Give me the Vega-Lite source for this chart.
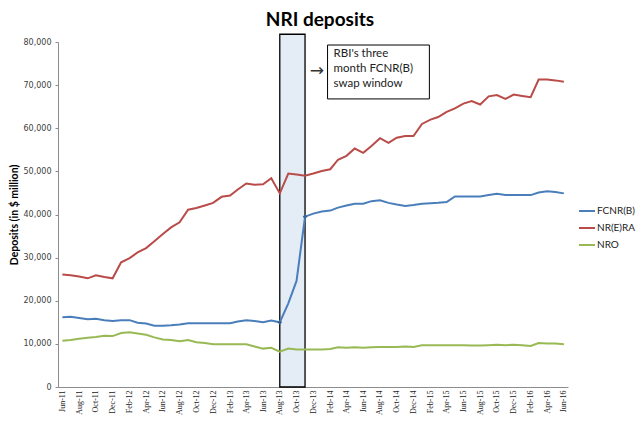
{
  "$schema": "https://vega.github.io/schema/vega-lite/v6.json",
  "width": 510,
  "height": 345,
  "autosize": {"type": "none"},
  "padding": {"left": 58, "top": 42, "right": 72, "bottom": 39},
  "background": "#FFFFFF",
  "title": {
    "text": "NRI deposits",
    "font": "Lato",
    "fontSize": 19,
    "fontWeight": "bold",
    "color": "black",
    "anchor": "middle",
    "frame": "group",
    "offset": 4,
    "dx": 7
  },
  "config": {
    "view": {"stroke": null},
    "font": "Lato"
  },
  "datasets": {
    "deposits": [
      {"date": "2011/06/01", "FCNR(B)": 16200, "NR(E)RA": 26100, "NRO": 10700},
      {"date": "2011/07/01", "FCNR(B)": 16300, "NR(E)RA": 25900, "NRO": 10900},
      {"date": "2011/08/01", "FCNR(B)": 16000, "NR(E)RA": 25600, "NRO": 11200},
      {"date": "2011/09/01", "FCNR(B)": 15700, "NR(E)RA": 25200, "NRO": 11400},
      {"date": "2011/10/01", "FCNR(B)": 15800, "NR(E)RA": 25900, "NRO": 11600},
      {"date": "2011/11/01", "FCNR(B)": 15500, "NR(E)RA": 25500, "NRO": 11900},
      {"date": "2011/12/01", "FCNR(B)": 15300, "NR(E)RA": 25200, "NRO": 11800},
      {"date": "2012/01/01", "FCNR(B)": 15500, "NR(E)RA": 28900, "NRO": 12500},
      {"date": "2012/02/01", "FCNR(B)": 15500, "NR(E)RA": 29900, "NRO": 12700},
      {"date": "2012/03/01", "FCNR(B)": 14900, "NR(E)RA": 31200, "NRO": 12400},
      {"date": "2012/04/01", "FCNR(B)": 14700, "NR(E)RA": 32200, "NRO": 12100},
      {"date": "2012/05/01", "FCNR(B)": 14200, "NR(E)RA": 33800, "NRO": 11500},
      {"date": "2012/06/01", "FCNR(B)": 14200, "NR(E)RA": 35500, "NRO": 11000},
      {"date": "2012/07/01", "FCNR(B)": 14300, "NR(E)RA": 37000, "NRO": 10900},
      {"date": "2012/08/01", "FCNR(B)": 14500, "NR(E)RA": 38200, "NRO": 10600},
      {"date": "2012/09/01", "FCNR(B)": 14800, "NR(E)RA": 41100, "NRO": 10900},
      {"date": "2012/10/01", "FCNR(B)": 14800, "NR(E)RA": 41500, "NRO": 10400},
      {"date": "2012/11/01", "FCNR(B)": 14800, "NR(E)RA": 42100, "NRO": 10200},
      {"date": "2012/12/01", "FCNR(B)": 14800, "NR(E)RA": 42700, "NRO": 9900},
      {"date": "2013/01/01", "FCNR(B)": 14800, "NR(E)RA": 44100, "NRO": 9900},
      {"date": "2013/02/01", "FCNR(B)": 14800, "NR(E)RA": 44400, "NRO": 9900},
      {"date": "2013/03/01", "FCNR(B)": 15200, "NR(E)RA": 45800, "NRO": 9900},
      {"date": "2013/04/01", "FCNR(B)": 15500, "NR(E)RA": 47200, "NRO": 9900},
      {"date": "2013/05/01", "FCNR(B)": 15300, "NR(E)RA": 46900, "NRO": 9400},
      {"date": "2013/06/01", "FCNR(B)": 15000, "NR(E)RA": 47000, "NRO": 8900},
      {"date": "2013/07/01", "FCNR(B)": 15400, "NR(E)RA": 48400, "NRO": 9100},
      {"date": "2013/08/01", "FCNR(B)": 15000, "NR(E)RA": 44900, "NRO": 8200},
      {"date": "2013/09/01", "FCNR(B)": 19400, "NR(E)RA": 49500, "NRO": 8900},
      {"date": "2013/10/01", "FCNR(B)": 24600, "NR(E)RA": 49300, "NRO": 8700},
      {"date": "2013/11/01", "FCNR(B)": 39500, "NR(E)RA": 49000, "NRO": 8700},
      {"date": "2013/12/01", "FCNR(B)": 40200, "NR(E)RA": 49500, "NRO": 8700},
      {"date": "2014/01/01", "FCNR(B)": 40700, "NR(E)RA": 50100, "NRO": 8700},
      {"date": "2014/02/01", "FCNR(B)": 40900, "NR(E)RA": 50500, "NRO": 8800},
      {"date": "2014/03/01", "FCNR(B)": 41600, "NR(E)RA": 52700, "NRO": 9200},
      {"date": "2014/04/01", "FCNR(B)": 42100, "NR(E)RA": 53600, "NRO": 9100},
      {"date": "2014/05/01", "FCNR(B)": 42500, "NR(E)RA": 55300, "NRO": 9200},
      {"date": "2014/06/01", "FCNR(B)": 42500, "NR(E)RA": 54300, "NRO": 9100},
      {"date": "2014/07/01", "FCNR(B)": 43100, "NR(E)RA": 55900, "NRO": 9200},
      {"date": "2014/08/01", "FCNR(B)": 43300, "NR(E)RA": 57700, "NRO": 9300},
      {"date": "2014/09/01", "FCNR(B)": 42700, "NR(E)RA": 56600, "NRO": 9300},
      {"date": "2014/10/01", "FCNR(B)": 42300, "NR(E)RA": 57800, "NRO": 9300},
      {"date": "2014/11/01", "FCNR(B)": 42000, "NR(E)RA": 58200, "NRO": 9400},
      {"date": "2014/12/01", "FCNR(B)": 42200, "NR(E)RA": 58200, "NRO": 9300},
      {"date": "2015/01/01", "FCNR(B)": 42500, "NR(E)RA": 61000, "NRO": 9700},
      {"date": "2015/02/01", "FCNR(B)": 42600, "NR(E)RA": 62000, "NRO": 9700},
      {"date": "2015/03/01", "FCNR(B)": 42700, "NR(E)RA": 62600, "NRO": 9700},
      {"date": "2015/04/01", "FCNR(B)": 42900, "NR(E)RA": 63800, "NRO": 9700},
      {"date": "2015/05/01", "FCNR(B)": 44200, "NR(E)RA": 64600, "NRO": 9700},
      {"date": "2015/06/01", "FCNR(B)": 44200, "NR(E)RA": 65700, "NRO": 9700},
      {"date": "2015/07/01", "FCNR(B)": 44200, "NR(E)RA": 66300, "NRO": 9600},
      {"date": "2015/08/01", "FCNR(B)": 44200, "NR(E)RA": 65500, "NRO": 9600},
      {"date": "2015/09/01", "FCNR(B)": 44500, "NR(E)RA": 67400, "NRO": 9700},
      {"date": "2015/10/01", "FCNR(B)": 44800, "NR(E)RA": 67700, "NRO": 9800},
      {"date": "2015/11/01", "FCNR(B)": 44500, "NR(E)RA": 66800, "NRO": 9700},
      {"date": "2015/12/01", "FCNR(B)": 44500, "NR(E)RA": 67800, "NRO": 9800},
      {"date": "2016/01/01", "FCNR(B)": 44500, "NR(E)RA": 67500, "NRO": 9700},
      {"date": "2016/02/01", "FCNR(B)": 44500, "NR(E)RA": 67200, "NRO": 9500},
      {"date": "2016/03/01", "FCNR(B)": 45100, "NR(E)RA": 71300, "NRO": 10200},
      {"date": "2016/04/01", "FCNR(B)": 45400, "NR(E)RA": 71300, "NRO": 10100},
      {"date": "2016/05/01", "FCNR(B)": 45200, "NR(E)RA": 71100, "NRO": 10100},
      {"date": "2016/06/01", "FCNR(B)": 44900, "NR(E)RA": 70800, "NRO": 9900}
    ],
    "swapPoints": [
      {"date": "2013/08/01", "value": 15000},
      {"date": "2013/11/01", "value": 39500}
    ]
  },
  "layer": [
    {
      "data": {"values": [{}]},
      "mark": {"type": "rect", "fill": "#e4ecf6", "stroke": "black", "strokeWidth": 1.3},
      "encoding": {
        "x": {"datum": {"year": 2013, "month": 8, "date": 1}, "type": "temporal",
              "scale": {"domain": [{"year": 2011, "month": 5, "date": 16}, {"year": 2016, "month": 6, "date": 16}]}},
        "x2": {"datum": {"year": 2013, "month": 11, "date": 1}},
        "y": {
          "datum": 0,
          "type": "quantitative",
          "scale": {"domain": [0, 80000], "nice": false},
          "axis": {
            "title": "Deposits (in $ million)",
            "titleFont": "Lato",
            "titleFontSize": 10.5,
            "titleFontWeight": "bold",
            "titleColor": "black",
            "titlePadding": 4,
            "values": [0, 10000, 20000, 30000, 40000, 50000, 60000, 70000, 80000],
            "labelExpr": "format(datum.value, ',')",
            "labelFont": "DejaVu Sans",
            "labelFontSize": 8,
            "labelColor": "#404040",
            "labelPadding": 4,
            "tickSize": 3,
            "tickColor": "#8c8c8c",
            "domainColor": "#8c8c8c",
            "gridColor": "#8c8c8c"
          }
        },
        "y2": {"datum": 81800}
      }
    },
    {
      "data": {"name": "deposits"},
      "transform": [{"fold": ["FCNR(B)", "NR(E)RA", "NRO"], "as": ["series", "value"]}],
      "mark": {"type": "line", "strokeWidth": 2},
      "encoding": {
        "x": {
          "field": "date",
          "type": "temporal",
          "scale": {"domain": [{"year": 2011, "month": 5, "date": 16}, {"year": 2016, "month": 6, "date": 16}]},
          "axis": {
            "title": null,
            "grid": false,
            "ticks": false,
            "tickCount": {"interval": "month", "step": 1},
            "labelExpr": "month(datum.value) % 2 == 1 ? timeFormat(datum.value, '%b-%y') : ''",
            "labelOverlap": false,
            "labelAngle": -90,
            "labelPadding": 3,
            "labelFont": "Liberation Serif",
            "labelFontSize": 8,
            "labelColor": "#222222",
            "domainColor": "#8c8c8c"
          }
        },
        "y": {
          "field": "value",
          "type": "quantitative",
          "scale": {"domain": [0, 80000], "nice": false},
          "axis": {
            "title": "Deposits (in $ million)",
            "titleFont": "Lato",
            "titleFontSize": 10.5,
            "titleFontWeight": "bold",
            "titleColor": "black",
            "titlePadding": 4,
            "values": [0, 10000, 20000, 30000, 40000, 50000, 60000, 70000, 80000],
            "labelExpr": "format(datum.value, ',')",
            "labelFont": "DejaVu Sans",
            "labelFontSize": 8,
            "labelColor": "#404040",
            "labelPadding": 4,
            "tickSize": 3,
            "tickColor": "#8c8c8c",
            "domainColor": "#8c8c8c",
            "gridColor": "#8c8c8c"
          }
        },
        "color": {
          "field": "series",
          "type": "nominal",
          "scale": {"domain": ["FCNR(B)", "NR(E)RA", "NRO"], "range": ["#4a7ebb", "#b94c49", "#98b954"]},
          "legend": {
            "title": null,
            "orient": "none",
            "legendX": 520,
            "legendY": 160,
            "padding": 0,
            "symbolType": "stroke",
            "symbolSize": 256,
            "symbolStrokeWidth": 2,
            "labelFont": "Lato",
            "labelFontSize": 10,
            "labelColor": "#222222",
            "labelOffset": 1,
            "labelLimit": 60,
            "rowPadding": 3
          }
        }
      }
    },
    {
      "data": {"name": "swapPoints"},
      "mark": {"type": "point", "shape": "diamond", "filled": true, "size": 22, "color": "#3a6496", "opacity": 1},
      "encoding": {
        "x": {"field": "date", "type": "temporal",
              "scale": {"domain": [{"year": 2011, "month": 5, "date": 16}, {"year": 2016, "month": 6, "date": 16}]}},
        "y": {"field": "value", "type": "quantitative", "scale": {"domain": [0, 80000], "nice": false}}
      }
    },
    {
      "data": {"values": [{}]},
      "mark": {"type": "rect", "fill": "white", "stroke": "black", "strokeWidth": 1},
      "encoding": {
        "x": {"datum": {"year": 2014, "month": 1, "date": 22}, "type": "temporal"},
        "x2": {"datum": {"year": 2015, "month": 1, "date": 28}},
        "y": {"datum": 79300, "type": "quantitative"},
        "y2": {"datum": 66800}
      }
    },
    {
      "data": {"values": [{}]},
      "mark": {"type": "text", "align": "left", "baseline": "top", "font": "Lato", "fontSize": 11.5, "lineHeight": 15, "color": "#222222",
               "text": ["RBI's three", "month FCNR(B)", "swap window"]},
      "encoding": {
        "x": {"datum": {"year": 2014, "month": 2, "date": 13}, "type": "temporal"},
        "y": {"datum": 78600, "type": "quantitative"}
      }
    },
    {
      "data": {"values": [{}]},
      "mark": {"type": "text", "align": "center", "baseline": "middle", "font": "DejaVu Sans", "fontSize": 17, "color": "#333333", "text": "→"},
      "encoding": {
        "x": {"datum": {"year": 2013, "month": 12, "date": 14}, "type": "temporal"},
        "y": {"datum": 73300, "type": "quantitative"}
      }
    }
  ]
}
